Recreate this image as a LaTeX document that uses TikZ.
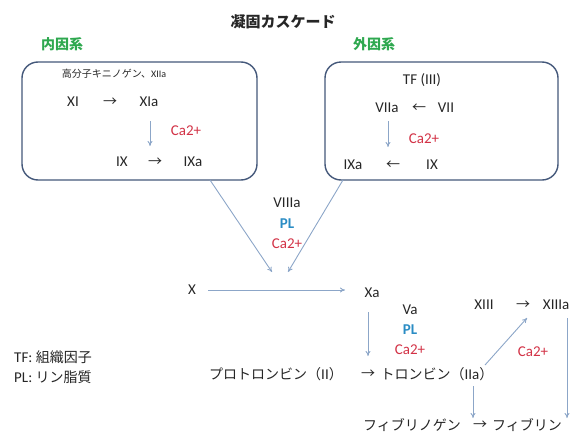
\documentclass[tikz,border=0pt]{standalone}
\usepackage{fontspec}
\setmainfont{Carlito}
\newfontfamily\jp{Noto Sans CJK JP}
\newcommand\jpt[1]{{\jp\fontsize{14}{16}\selectfont #1}}
\usetikzlibrary{arrows.meta}
\definecolor{txt}{HTML}{262626}
\definecolor{cared}{HTML}{D23246}
\definecolor{plblue}{HTML}{2A8CC4}
\definecolor{grn}{HTML}{2EA84F}
\definecolor{boxc}{HTML}{44587A}
\definecolor{arrc}{HTML}{8CA6C8}
\tikzset{
  lbl/.style={text=txt, font=\fontsize{15}{17}\selectfont, inner sep=0pt},
  small/.style={text=txt, font=\fontsize{10}{12}\selectfont, inner sep=0pt},
  red/.style={lbl, text=cared},
  blu/.style={lbl, text=plblue, font=\fontsize{15}{17}\selectfont\bfseries},
  grnt/.style={text=grn, font=\jp\fontsize{14}{16}\selectfont\bfseries, inner sep=0pt},
  pathbox/.style={draw=boxc, line width=1.4pt, rounded corners=16pt},
  flow/.style={draw=arrc, line width=0.9pt, -{To[length=5pt,width=5pt]}},
}
\begin{document}
\begin{tikzpicture}[x=1pt,y=-1pt]
\useasboundingbox (0,0) rectangle (570,434);
% title
\node[text=txt, font=\jp\fontsize{15}{17}\selectfont\bfseries, inner sep=0pt] (title) at (283,22) {凝固カスケード};
\node[grnt] (intr) at (62,44) {内因系};
\node[grnt] (extr) at (374,44) {外因系};
% boxes
\draw[pathbox] (22,62) rectangle (257,180);
\draw[pathbox] (325,62) rectangle (558,180);
\coordinate (lbot) at (210,180);
\coordinate (rbot) at (343,180);
% intrinsic contents
\node[small] (hmwk) at (114,74) {{\jp 高分子キニノゲン、}XIIa};
\node[lbl] (xi) at (73,102) {XI};
\node[lbl] (a1) at (110,102) {\jpt{→}};
\node[lbl] (xia) at (149,102) {XIa};
\node[red] (ca1) at (186,131) {Ca2+};
\node[lbl] (ix1) at (122,162) {IX};
\node[lbl] (a2) at (155,162) {\jpt{→}};
\node[lbl] (ixa1) at (193,162) {IXa};
\draw[flow] (150,121) -- (150,146);
% extrinsic contents
\node[lbl] (tf) at (422,80) {TF (III)};
\node[lbl] (viia) at (387,108) {VIIa};
\node[lbl] (a3) at (419,108) {\jpt{←}};
\node[lbl] (vii) at (446,108) {VII};
\node[red] (ca2) at (424,139) {Ca2+};
\node[lbl] (ixa2) at (353,165) {IXa};
\node[lbl] (a4) at (393,165) {\jpt{←}};
\node[lbl] (ix2) at (432,165) {IX};
\draw[flow] (388,121) -- (388,147);
% converge
\node[lbl] (viiia) at (287,203) {VIIIa};
\node[blu] (pl1) at (287,224) {PL};
\node[red] (ca3) at (287,244) {Ca2+};
\coordinate (m1) at (272,272);
\coordinate (m2) at (288,272);
\draw[flow] (lbot) -- (m1);
\draw[flow] (rbot) -- (m2);
% X -> Xa
\node[lbl] (x) at (192,290) {X};
\node[lbl] (xa) at (372,293) {Xa};
\coordinate (xs) at (208,290);
\coordinate (xe) at (345,290);
\draw[flow] (xs) -- (xe);
\draw[flow] (368,312) -- (368,356);
\node[lbl] (va) at (410,310) {Va};
\node[blu] (pl2) at (410,330) {PL};
\node[red] (ca4) at (410,350) {Ca2+};
% prothrombin
\node[lbl] (pt) at (276,374) {\jpt{プロトロンビン（}II\jpt{）}};
\node[lbl] (a5) at (368,374) {\jpt{→}};
\node[lbl] (th) at (437,374) {\jpt{トロンビン（}IIa\jpt{）}};
% XIII
\node[lbl] (xiii) at (484,305) {XIII};
\node[lbl] (a6) at (523,305) {\jpt{→}};
\node[lbl, anchor=east] (xiiia) at (569.5,305) {XIIIa};
\node[red] (ca5) at (533,352) {Ca2+};
\draw[flow] (485,365) -- (527,318);
\draw[flow] (567,318) -- (567,418);
\draw[flow] (473,386) -- (473,418);
% fibrin
\node[lbl] (fg) at (412,425) {\jpt{フィブリノゲン}};
\node[lbl] (a7) at (480,425) {\jpt{→}};
\node[lbl] (fb) at (527,425) {\jpt{フィブリン}};
% legend
\node[lbl, anchor=west] (leg1) at (14,357) {TF: \jpt{組織因子}};
\node[lbl, anchor=west] (leg2) at (14,377) {PL: \jpt{リン脂質}};
\end{tikzpicture}
\end{document}
